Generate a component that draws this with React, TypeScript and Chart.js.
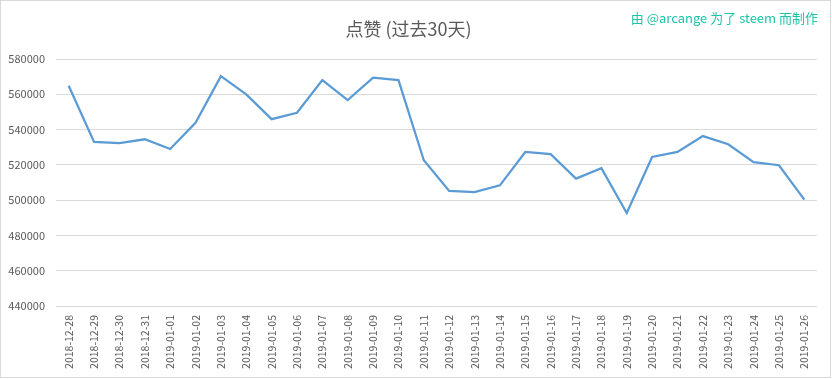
import React, { useEffect, useRef } from "react";
import { Chart, registerables } from "chart.js";

Chart.register(...registerables);

const categories = [
  "2018-12-28", "2018-12-29", "2018-12-30", "2018-12-31", "2019-01-01",
  "2019-01-02", "2019-01-03", "2019-01-04", "2019-01-05", "2019-01-06",
  "2019-01-07", "2019-01-08", "2019-01-09", "2019-01-10", "2019-01-11",
  "2019-01-12", "2019-01-13", "2019-01-14", "2019-01-15", "2019-01-16",
  "2019-01-17", "2019-01-18", "2019-01-19", "2019-01-20", "2019-01-21",
  "2019-01-22", "2019-01-23", "2019-01-24", "2019-01-25", "2019-01-26",
];

const votes = [
  564800, 533000, 532300, 534500, 529000,
  543800, 570300, 559900, 545900, 549500,
  568100, 556700, 569400, 568000, 522600,
  505200, 504600, 508400, 527300, 526100,
  512200, 518100, 492700, 524500, 527300,
  536300, 531700, 521500, 519800, 500300,
];

const yMin = 440000;
const yMax = 580000;
const yStep = 20000;

const titleText = "点赞 (过去30天)";
const creditText = "由 @arcange 为了 steem 而制作";

const FONT = "'Noto Sans CJK SC', 'Noto Sans', sans-serif";

export default function App() {
  const ref = useRef<HTMLCanvasElement | null>(null);

  useEffect(() => {
    document.body.style.margin = "0";
    const canvas = ref.current;
    if (!canvas) return;

    const frame = {
      id: "frame",
      afterDraw(chart: any) {
        const ctx = chart.ctx;
        ctx.save();
        ctx.strokeStyle = "#d9d9d9";
        ctx.lineWidth = 1;
        ctx.strokeRect(0.5, 0.5, 830, 377);
        ctx.fillStyle = "#1cc4a8";
        ctx.font = `13px ${FONT}`;
        ctx.textAlign = "right";
        ctx.textBaseline = "middle";
        ctx.fillText(creditText, 818, 18);
        ctx.restore();
      },
    };

    const chart = new Chart(canvas, {
      type: "line",
      data: {
        labels: categories,
        datasets: [
          {
            data: votes,
            borderColor: "#5b9bd5",
            backgroundColor: "#5b9bd5",
            borderWidth: 2.25,
            pointRadius: 0,
            tension: 0,
            fill: false,
          },
        ],
      },
      options: {
        animation: false,
        responsive: false,
        maintainAspectRatio: false,
        layout: { padding: { left: 0, right: 15, top: 0, bottom: 0 } },
        plugins: {
          legend: { display: false },
          tooltip: { enabled: false },
          title: {
            display: true,
            text: titleText,
            color: "#595959",
            font: { family: FONT, size: 18, weight: "normal", lineHeight: 1.2 },
            padding: { top: 18, bottom: 19.4 },
          },
        },
        scales: {
          x: {
            offset: true,
            grid: { display: false, drawTicks: false, offset: true },
            border: { display: false },
            ticks: {
              color: "#595959",
              font: { family: FONT, size: 10.5 },
              minRotation: 90,
              maxRotation: 90,
              autoSkip: false,
              padding: 9,
            },
            afterFit(axis: any) {
              axis.height = 73;
            },
          },
          y: {
            min: yMin,
            max: yMax,
            grid: { color: "#d9d9d9", drawTicks: false, lineWidth: 1 },
            border: { display: false },
            ticks: {
              stepSize: yStep,
              color: "#595959",
              font: { family: FONT, size: 11 },
              padding: 11,
              callback: (v: any) => String(v),
            },
            afterFit(axis: any) {
              axis.width = 56;
            },
          },
        },
      },
      plugins: [frame],
    });

    return () => chart.destroy();
  }, []);

  return (
    <div style={{ width: 832, height: 379 }}>
      <canvas ref={ref} width={832} height={379} style={{ display: "block" }} />
    </div>
  );
}
